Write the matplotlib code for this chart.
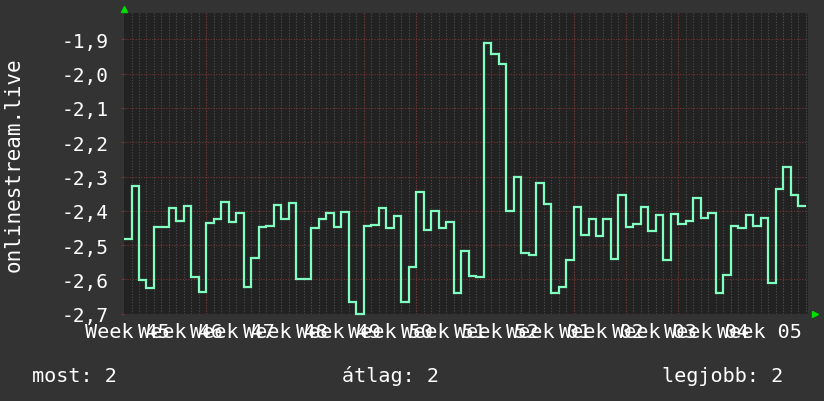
import matplotlib
matplotlib.use('Agg')
import matplotlib.pyplot as plt
import numpy as np
from matplotlib.ticker import FuncFormatter

# one value per day
values = [-2.483, -2.328, -2.603, -2.626, -2.446, -2.447, -2.393, -2.430, -2.386, -2.592,
          -2.636, -2.435, -2.425, -2.375, -2.433, -2.405, -2.621, -2.537, -2.448, -2.445,
          -2.382, -2.424, -2.376, -2.600, -2.598, -2.450, -2.424, -2.406, -2.447, -2.403,
          -2.667, -2.700, -2.444, -2.441, -2.393, -2.450, -2.415, -2.667, -2.565, -2.344,
          -2.457, -2.400, -2.449, -2.433, -2.641, -2.516, -2.591, -2.594, -1.910, -1.943,
          -1.971, -2.400, -2.300, -2.523, -2.528, -2.320, -2.381, -2.641, -2.621, -2.544,
          -2.390, -2.471, -2.424, -2.474, -2.424, -2.540, -2.355, -2.447, -2.437, -2.390,
          -2.458, -2.413, -2.544, -2.409, -2.437, -2.430, -2.363, -2.421, -2.406, -2.640,
          -2.588, -2.444, -2.449, -2.412, -2.444, -2.421, -2.611, -2.335, -2.273, -2.354,
          -2.386]
week_labels = ['Week 45', 'Week 46', 'Week 47', 'Week 48', 'Week 49', 'Week 50', 'Week 51',
               'Week 52', 'Week 01', 'Week 02', 'Week 03', 'Week 04', 'Week 05']
y_ticks = [-2.7, -2.6, -2.5, -2.4, -2.3, -2.2, -2.1, -2.0, -1.9]
legend_items = ['most: 2', 'átlag: 2', 'legjobb: 2']
y_title = 'onlinestream.live'

plt.rcParams['font.family'] = ['DejaVu Sans Mono', 'DejaVu Sans']

BG = '#333333'
PLOT_BG = '#222222'
MINOR = '#4e4e4e'
MAJOR = '#783434'
LINE = '#80ffc0'
ARROW = '#00dd00'

fig = plt.figure(figsize=(8.24, 4.02), dpi=100, facecolor=BG)
ax = fig.add_axes([0.1505, 0.2172, 0.8301, 0.748])
ax.set_facecolor(PLOT_BG)

n = len(values)
edges = np.arange(n + 1)
x_max = 91.3

# daily minor grid, weekly red grid
for d in range(1, int(x_max) + 1):
    ax.axvline(d, color=MINOR, lw=0.8, ls=(0, (1, 1.5)), zorder=1)
for w in range(11, int(x_max), 7):
    ax.axvline(w, color=MAJOR, lw=0.8, ls=(0, (1, 1.5)), zorder=1)
for v in y_ticks:
    ax.axhline(v, color=MAJOR, lw=0.8, ls=(0, (1, 1.5)), zorder=1)

ax.stairs(values, edges, baseline=None, color=LINE, lw=1.6, zorder=3, clip_on=False)

ax.set_xlim(0, x_max)
ax.set_ylim(-2.7, -1.823)

ax.set_yticks(y_ticks)
ax.yaxis.set_major_formatter(FuncFormatter(lambda v, p: f'{v:.1f}'.replace('.', ',')))
ax.tick_params(axis='y', colors=MAJOR, labelcolor='white', length=2, width=0.8,
               pad=9, labelsize=14)

label_pos = 0.45 + 7.03 * np.arange(len(week_labels))
ax.set_xticks(label_pos)
ax.set_xticklabels(week_labels)
ax.tick_params(axis='x', length=0, labelcolor='white', pad=6, labelsize=14.5)

for s in ax.spines.values():
    s.set_visible(False)

# rrdtool style axis arrows
ax.plot([0], [1.012], marker='^', color=ARROW, ms=5, transform=ax.transAxes, clip_on=False)
ax.plot([1.01], [0], marker='>', color=ARROW, ms=5, transform=ax.transAxes, clip_on=False)

fig.text(0.0164, 0.591, y_title, rotation=90, ha='center', va='center',
         color='white', fontsize=15)

for item, xpos in zip(legend_items, [0.0388, 0.415, 0.8034]):
    fig.text(xpos, 0.05, item, ha='left', va='baseline', color='white', fontsize=14.5)

fig.savefig('out.png', dpi=100, facecolor=BG)
